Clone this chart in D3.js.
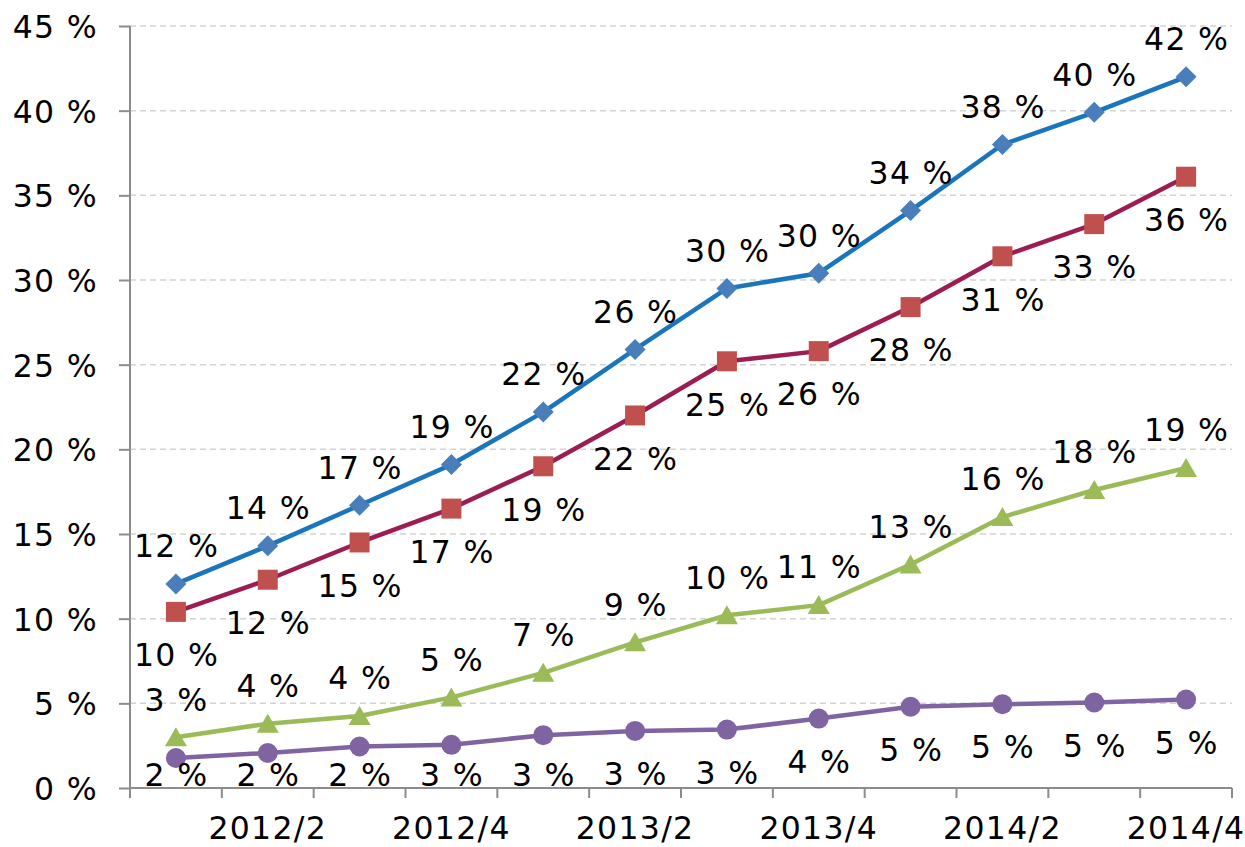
<!DOCTYPE html>
<html>
<head>
<meta charset="utf-8">
<script src="https://cdn.jsdelivr.net/npm/d3@7"></script>
<style>
  html, body { margin: 0; padding: 0; background: #fff; }
  svg { display: block; font-family: "DejaVu Sans", Verdana, sans-serif; }
</style>
</head>
<body>
<svg id="chart" width="1245" height="847"></svg>
<script>
// ---- data ----
const categories = ["2012/1","2012/2","2012/3","2012/4","2013/1","2013/2","2013/3","2013/4","2014/1","2014/2","2014/3","2014/4"];
const shownTickLabels = ["2012/2","2012/4","2013/2","2013/4","2014/2","2014/4"];
const yTicks = [0, 5, 10, 15, 20, 25, 30, 35, 40, 45];

const seriesA = [12.05, 14.3, 16.7, 19.1, 22.2, 25.9, 29.5, 30.4, 34.1, 38.0, 39.9, 42.0];
const seriesB = [10.4, 12.3, 14.5, 16.5, 19.0, 22.0, 25.2, 25.8, 28.4, 31.4, 33.3, 36.1];
const seriesC = [3.0, 3.8, 4.25, 5.35, 6.8, 8.6, 10.2, 10.8, 13.2, 16.0, 17.6, 18.9];
const seriesD = [1.77, 2.07, 2.45, 2.55, 3.12, 3.37, 3.45, 4.1, 4.8, 4.95, 5.05, 5.22];

const series = [
  { values: seriesA, line: "#1A75BC", marker: "#4A7EBB", shape: "diamond", pos: "above" },
  { values: seriesB, line: "#9B1D52", marker: "#C0504D", shape: "square",  pos: "below" },
  { values: seriesC, line: "#9BBB59", marker: "#9BBB59", shape: "triangle", pos: "above" },
  { values: seriesD, line: "#8064A2", marker: "#8064A2", shape: "circle",  pos: "below" }
];

// ---- layout ----
const svg = d3.select("#chart");
const mLeft = 130, mRight = 1232, mTop = 26, mBottom = 788;
const fontSize = 31.5;
const letterSp = 1.3;

const x = d3.scaleBand().domain(categories).range([mLeft, mRight]).padding(0);
const y = d3.scaleLinear().domain([0, 45]).range([mBottom, mTop]);
const cx = d => x(d) + x.bandwidth() / 2;

// gridlines
svg.append("g").selectAll("line").data(yTicks.filter(t => t > 0)).join("line")
  .attr("x1", mLeft).attr("x2", mRight)
  .attr("y1", d => y(d)).attr("y2", d => y(d))
  .attr("stroke", "#d3d3d3").attr("stroke-width", 1.5)
  .attr("stroke-dasharray", "6,4");

// y axis
const yAxis = d3.axisLeft(y).tickValues(yTicks).tickSize(11).tickPadding(21)
  .tickFormat(d => d + " %");
const gy = svg.append("g").attr("transform", `translate(${mLeft},0)`).call(yAxis);
gy.select(".domain").attr("stroke", "#8c8c8c").attr("stroke-width", 2)
  .attr("d", `M0,${mTop}V${mBottom + 10}`);
gy.selectAll(".tick line").attr("stroke", "#8c8c8c").attr("stroke-width", 2);
gy.selectAll(".tick text").attr("font-size", fontSize).attr("fill", "#000")
  .attr("letter-spacing", letterSp)
  .attr("font-family", "DejaVu Sans, Verdana, sans-serif").attr("dy", "0.36em");

// x axis
const xAxis = d3.axisBottom(x).tickSize(0).tickPadding(29)
  .tickFormat(d => shownTickLabels.includes(d) ? d : "");
const gx = svg.append("g").attr("transform", `translate(0,${mBottom})`).call(xAxis);
gx.select(".domain").attr("stroke", "#8c8c8c").attr("stroke-width", 2)
  .attr("d", `M${mLeft},0H${mRight}`);
gx.selectAll(".tick text").attr("font-size", fontSize).attr("fill", "#000")
  .attr("letter-spacing", letterSp)
  .attr("font-family", "DejaVu Sans, Verdana, sans-serif").attr("dy", "0.71em");
// x tick marks at category boundaries
const boundaries = categories.map(c => x(c)).concat([mRight]);
gx.append("g").selectAll("line").data(boundaries).join("line")
  .attr("x1", d => d).attr("x2", d => d).attr("y1", 0).attr("y2", 10)
  .attr("stroke", "#8c8c8c").attr("stroke-width", 2);

// series lines
const lineGen = d3.line().x((d, i) => cx(categories[i])).y(d => y(d));
series.forEach(s => {
  svg.append("path").datum(s.values)
    .attr("d", lineGen)
    .attr("fill", "none").attr("stroke", s.line).attr("stroke-width", 4.5)
    .attr("stroke-linejoin", "round");
});

// markers
function markerPath(shape) {
  switch (shape) {
    case "diamond": return "M0,-10.5L10.5,0L0,10.5L-10.5,0Z";
    case "square": return "M-10,-10H10V10H-10Z";
    case "triangle": return "M0,-10L11,9H-11Z";
    default: return null;
  }
}
series.forEach(s => {
  const g = svg.append("g");
  s.values.forEach((v, i) => {
    const px = cx(categories[i]), py = y(v);
    if (s.shape === "circle") {
      g.append("circle").attr("cx", px).attr("cy", py).attr("r", 10).attr("fill", s.marker);
    } else {
      g.append("path").attr("d", markerPath(s.shape))
        .attr("transform", `translate(${px},${py})`).attr("fill", s.marker);
    }
  });
});

// data labels
series.forEach(s => {
  svg.append("g").selectAll("text").data(s.values).join("text")
    .attr("x", (d, i) => cx(categories[i]) + letterSp / 2)
    .attr("y", d => {
      const py = y(d);
      let c = s.pos === "above" ? py - 38 : py + 43;
      c = Math.min(c, 775);
      return c + 11.3;
    })
    .attr("text-anchor", "middle")
    .attr("letter-spacing", letterSp)
    .attr("font-size", fontSize).attr("fill", "#000")
    .text(d => Math.round(d) + " %");
});
</script>
</body>
</html>
